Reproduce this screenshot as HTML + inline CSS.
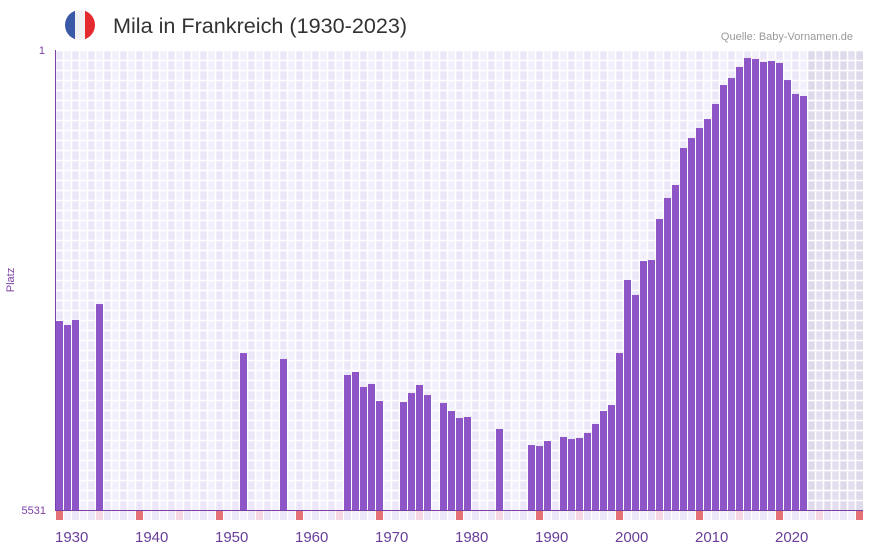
<!DOCTYPE html>
<html><head><meta charset="utf-8"><style>
body{margin:0;background:#fff;font-family:"Liberation Sans",sans-serif;}
svg{display:block}
</style></head><body>
<svg id="c" width="873" height="552">
  <defs><clipPath id="fc"><circle cx="80" cy="25" r="15"/></clipPath></defs>
  <g clip-path="url(#fc)">
    <rect x="65" y="10" width="10" height="30" fill="#3a58a8"/>
    <rect x="75" y="10" width="10" height="30" fill="#f1f1f4"/>
    <rect x="85" y="10" width="10" height="30" fill="#e52a2f"/>
  </g>
  <text x="113" y="33" font-size="21.6" fill="#333" font-family="Liberation Sans, sans-serif">Mila in Frankreich (1930-2023)</text>
  <text x="853" y="40" font-size="11" fill="#999" text-anchor="end">Quelle: Baby-Vornamen.de</text>
  <text x="14" y="280" font-size="11" fill="#7b3fa6" text-anchor="middle" transform="rotate(-90 14 280)">Platz</text>
  <text x="45" y="54" font-size="11" fill="#7b3fa6" text-anchor="end">1</text>
  <text x="46" y="514" font-size="11" fill="#7b3fa6" text-anchor="end">5531</text>
  <g id="grid"></g>
  <g id="bars"></g>
  <g id="strip"></g>
  <g id="xlabels"></g>
  <line x1="55.5" y1="50" x2="55.5" y2="510" stroke="#7b3fa6" stroke-width="1"/>
  <line x1="55" y1="510.5" x2="863" y2="510.5" stroke="#7b3fa6" stroke-width="1"/>
</svg>
<script>
const years = [1930,1931,1932,1935,1953,1958,1966,1967,1968,1969,1970,1973,1974,1975,1976,1978,1979,1980,1981,1985,1989,1990,1991,1993,1994,1995,1996,1997,1998,1999,2000,2001,2002,2003,2004,2005,2006,2007,2008,2009,2010,2011,2012,2013,2014,2015,2016,2017,2018,2019,2020,2021,2022,2023];
const ranks = [3259,3307,3247,3055,3644,3716,3908,3872,4052,4016,4221,4233,4125,4028,4149,4245,4341,4425,4413,4557,4750,4762,4702,4653,4678,4665,4605,4497,4341,4269,3644,2766,2946,2538,2526,2033,1780,1624,1179,1059,939,831,650,422,338,205,97,109,145,133,157,362,530,554];
const tickYears = [1930,1940,1950,1960,1970,1980,1990,2000,2010,2020];
const minYear = 1930, maxYear = 2030, lastYear = 2023, maxRank = 5531;
const X0 = 55, W = 8, TOP = 50, BOT = 510;
const NS = "http://www.w3.org/2000/svg";
function xs(y){ return X0 + (y - minYear) * W; }
function ys(r){ return BOT - (maxRank - r) / (maxRank - 1) * (BOT - TOP); }
function mk(t, a){ const e = document.createElementNS(NS, t); for (const k in a) e.setAttribute(k, a[k]); return e; }
const grid = document.getElementById('grid');
for (let y = minYear; y <= maxYear; y++) {
  const fut = y > lastYear;
  const col = fut ? (y % 2 ? '#e3dfee' : '#dfdaea') : (y % 2 ? '#f3f0fb' : '#ece7f8');
  const r = mk('rect', {x: xs(y), y: TOP, width: W, height: BOT - TOP, fill: col});
  
  
  grid.appendChild(r);
  const l = mk('line', {x1: xs(y) + 0.5, y1: TOP, x2: xs(y) + 0.5, y2: BOT, stroke: '#fff', 'stroke-width': 1.5});
  
  
  grid.appendChild(l);
}
for (let gy = TOP; gy < BOT; gy += 10) {
  const l = mk('line', {x1: X0, y1: gy + 0.5, x2: xs(maxYear) + W, y2: gy + 0.5, stroke: '#fff', 'stroke-width': 1.5});
  
  
  grid.appendChild(l);
}
const bars = document.getElementById('bars');
years.forEach((y, i) => {
  const top = ys(ranks[i]);
  const b = mk('rect', {x: xs(y) + 1, y: top, width: W - 1, height: BOT - top, fill: '#8e55c7'});
  
  
  bars.appendChild(b);
});
const strip = document.getElementById('strip');
for (let y = minYear; y <= maxYear; y++) {
  let col = y % 2 ? '#f3f0fb' : '#ece7f8';
  if (y % 10 === 0) col = '#e57276'; else if (y % 5 === 0) col = '#f5d8e3';
  const r = mk('rect', {x: xs(y) + 1, y: 511, width: W - 1, height: 9, fill: col});
  
  
  strip.appendChild(r);
}
const xl = document.getElementById('xlabels');
tickYears.forEach(y => {
  const t = mk('text', {x: xs(y), y: 542, 'font-size': 15, fill: '#6a3d9a'});
  t.textContent = y;
  
  
  xl.appendChild(t);
});
</script>
</body></html>
